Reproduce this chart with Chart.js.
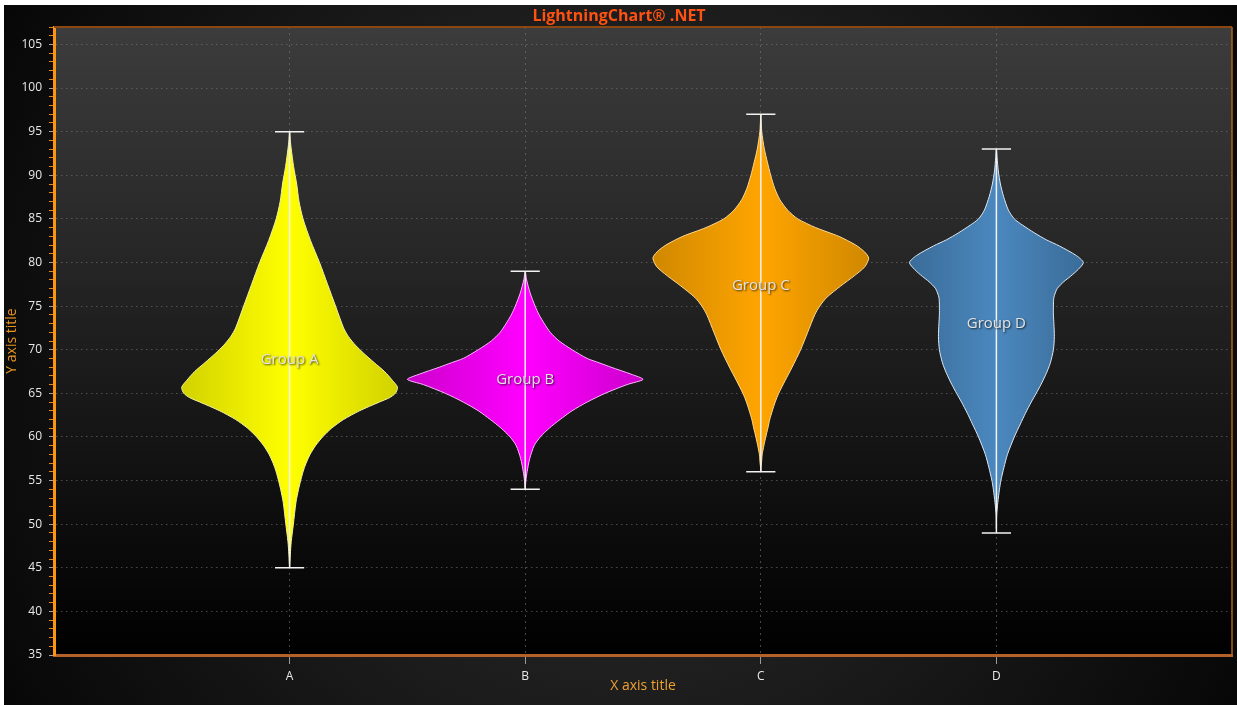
<!DOCTYPE html>
<html>
<head>
<meta charset="utf-8">
<script src="https://cdn.jsdelivr.net/npm/chart.js@4/dist/chart.umd.min.js"></script>
<style>
  html, body { margin: 0; padding: 0; background: #ffffff; }
  #chart { position: absolute; left: 4px; top: 5px; }
</style>
</head>
<body>
<canvas id="chart" width="1233" height="700"></canvas>
<script>
// categories on the x axis (placed at 0..3)
const categories = ['A', 'B', 'C', 'D'];
const groupNames = ['Group A', 'Group B', 'Group C', 'Group D'];

// violin outlines: y values (bottom to top) and half width in x-axis units
const groupA_y = [45, 46.5, 48, 50, 52.5, 54, 55, 56, 57, 58, 59, 60, 61, 62, 63, 64, 64.5, 65, 65.7, 66.5, 67.5, 68.5, 69.6, 70.5, 71.5, 72.5, 75, 77.5, 80, 82.5, 85, 87, 89, 91, 93, 94, 95];
const groupA_w = [0, 0.003, 0.007, 0.016, 0.027, 0.038, 0.047, 0.057, 0.070, 0.087, 0.110, 0.140, 0.178, 0.229, 0.297, 0.381, 0.424, 0.449, 0.458, 0.436, 0.403, 0.360, 0.314, 0.280, 0.250, 0.229, 0.195, 0.161, 0.127, 0.089, 0.057, 0.040, 0.030, 0.017, 0.007, 0.003, 0];

const groupB_y = [54, 55, 56, 57.5, 59, 60, 61, 62, 63, 64, 65, 66, 66.6, 67.2, 68, 68.5, 69, 70, 71, 72, 73, 74, 75, 76.5, 78, 79];
const groupB_w = [0, 0.003, 0.008, 0.019, 0.038, 0.064, 0.102, 0.148, 0.199, 0.263, 0.339, 0.432, 0.500, 0.449, 0.364, 0.314, 0.263, 0.199, 0.144, 0.106, 0.081, 0.059, 0.042, 0.021, 0.006, 0];

const groupC_y = [56, 56.5, 57, 58, 59, 60, 61, 62, 63, 64, 65, 66.5, 68, 70, 72, 74, 75, 76, 77.3, 78.5, 79.5, 80.5, 81.2, 82, 83, 84, 85, 86, 87.2, 88.5, 90, 91.5, 93, 95, 96.5, 97];
const groupC_w = [0, 0.001, 0.003, 0.006, 0.013, 0.021, 0.030, 0.038, 0.049, 0.061, 0.076, 0.104, 0.133, 0.169, 0.199, 0.229, 0.250, 0.280, 0.339, 0.398, 0.441, 0.458, 0.441, 0.403, 0.331, 0.233, 0.157, 0.114, 0.081, 0.059, 0.042, 0.028, 0.015, 0.004, 0.001, 0];

const groupD_y = [49.5, 51, 52.5, 54, 55, 56.5, 58, 60, 61.5, 62.7, 64, 65, 66, 67.3, 68.5, 70, 71.5, 73, 74, 75, 76, 77, 77.8, 78.4, 79.2, 80, 80.8, 81.9, 82.6, 83.4, 84.3, 85, 86, 87.6, 89, 90.5, 92, 93];
const groupD_w = [0, 0.001, 0.006, 0.013, 0.019, 0.032, 0.047, 0.076, 0.102, 0.123, 0.148, 0.169, 0.189, 0.212, 0.229, 0.242, 0.246, 0.244, 0.242, 0.242, 0.244, 0.258, 0.286, 0.314, 0.347, 0.369, 0.339, 0.267, 0.212, 0.161, 0.110, 0.076, 0.051, 0.030, 0.017, 0.008, 0.003, 0];

// whisker ends and label heights
const whiskerMin = [45, 54, 56, 49];
const whiskerMax = [95, 79, 97, 93];
const labelY = [68.9, 66.6, 77.3, 73.0];

const groupY = [groupA_y, groupB_y, groupC_y, groupD_y];
const groupW = [groupA_w, groupB_w, groupC_w, groupD_w];

// styles
const centerColors = ['#ffff00', '#ff00ff', '#ffa500', '#4b88bf'];
const edgeColors = ['#d2d200', '#cc00cc', '#d08800', '#3a6c98'];
const outlineColors = ['#f4f4a0', '#ffb4ff', '#ffd890', '#dde8f2'];
const capHalf = 0.062;

Chart.defaults.font.family = "'Open Sans', 'DejaVu Sans', sans-serif";

function violinPoints(center, ys, ws) {
    const right = ys.map((y, k) => ({x: center + ws[k], y: y}));
    const left = ys.map((y, k) => ({x: center - ws[k], y: y})).reverse().slice(1);
    return right.concat(left);
}

function violinFill(i) {
    return function (context) {
        const chart = context.chart;
        if (!chart.chartArea) {
            return centerColors[i];
        }
        const xs = chart.scales.x;
        const maxW = Math.max(...groupW[i]);
        const x0 = xs.getPixelForValue(i - maxW);
        const x1 = xs.getPixelForValue(i + maxW);
        const g = chart.ctx.createLinearGradient(x0, 0, x1, 0);
        g.addColorStop(0, edgeColors[i]);
        g.addColorStop(0.5, centerColors[i]);
        g.addColorStop(1, edgeColors[i]);
        return g;
    };
}

const datasets = [];
categories.forEach((c, i) => {
    datasets.push({
        label: groupNames[i],
        data: violinPoints(i, groupY[i], groupW[i]),
        fill: 'shape',
        backgroundColor: violinFill(i),
        borderColor: outlineColors[i],
        borderWidth: 1,
        pointRadius: 0,
        tension: 0.25,
        order: 2
    });
    datasets.push({
        label: groupNames[i] + ' range',
        data: [
            {x: i - capHalf, y: whiskerMax[i]}, {x: i + capHalf, y: whiskerMax[i]},
            {x: i, y: null},
            {x: i, y: whiskerMax[i]}, {x: i, y: whiskerMin[i]},
            {x: i, y: null},
            {x: i - capHalf, y: whiskerMin[i]}, {x: i + capHalf, y: whiskerMin[i]}
        ],
        fill: false,
        spanGaps: false,
        borderColor: '#f2f2f2',
        borderWidth: 1.5,
        pointRadius: 0,
        tension: 0,
        order: 0
    });
});

const backdrop = {
    id: 'backdrop',
    beforeDraw(chart) {
        const {ctx, width, height, chartArea: a} = chart;
        ctx.save();
        const g = ctx.createRadialGradient(width / 2, height / 2, 0, width / 2, height / 2, width * 0.6);
        g.addColorStop(0, '#323232');
        g.addColorStop(1, '#050505');
        ctx.fillStyle = g;
        ctx.fillRect(0, 0, width, height);
        const pg = ctx.createLinearGradient(0, a.top, 0, a.bottom);
        pg.addColorStop(0, '#3c3c3c');
        pg.addColorStop(1, '#000000');
        ctx.fillStyle = pg;
        ctx.fillRect(a.left, a.top, a.right - a.left, a.bottom - a.top);
        ctx.restore();
    },
    afterDraw(chart) {
        const {ctx, chartArea: a} = chart;
        ctx.save();
        ctx.strokeStyle = '#8c4612';
        ctx.lineWidth = 2;
        ctx.beginPath();
        ctx.moveTo(a.left, a.top);
        ctx.lineTo(a.right, a.top);
        ctx.stroke();
        ctx.strokeStyle = '#b0601c';
        ctx.lineWidth = 1.5;
        ctx.beginPath();
        ctx.moveTo(a.right, a.top);
        ctx.lineTo(a.right, a.bottom);
        ctx.stroke();
        ctx.restore();
    }
};

const groupLabels = {
    id: 'groupLabels',
    afterDatasetsDraw(chart) {
        const {ctx} = chart;
        const xs = chart.scales.x, ys = chart.scales.y;
        ctx.save();
        ctx.font = "15px 'Open Sans', sans-serif";
        ctx.textAlign = 'center';
        ctx.textBaseline = 'middle';
        ctx.shadowColor = 'rgba(0,0,0,0.75)';
        ctx.shadowBlur = 2;
        ctx.shadowOffsetX = 1;
        ctx.shadowOffsetY = 1;
        ctx.fillStyle = '#e4e4e4';
        groupNames.forEach((name, i) => {
            ctx.fillText(name, xs.getPixelForValue(i), ys.getPixelForValue(labelY[i]));
        });
        ctx.restore();
    }
};

const gridGrey = 'rgba(125,125,125,0.55)';

new Chart(
    document.getElementById('chart'),
    {
        type: 'line',
        data: {datasets: datasets},
        options: {
            responsive: false,
            animation: false,
            devicePixelRatio: 1,
            layout: {padding: {top: 0, right: 3, left: 0, bottom: 0}},
            plugins: {
                legend: {display: false},
                tooltip: {enabled: false},
                title: {
                    display: true,
                    text: 'LightningChart® .NET',
                    color: '#ff5212',
                    font: {size: 16, weight: 'bold'},
                    padding: {top: 1.5, bottom: 1.3}
                }
            },
            scales: {
                x: {
                    type: 'linear',
                    min: -1,
                    max: 4,
                    afterFit: s => { s.height = 50; },
                    ticks: {
                        stepSize: 1,
                        autoSkip: false,
                        maxRotation: 0,
                        color: '#e8e8e8',
                        font: {size: 12},
                        padding: 5,
                        callback: v => categories[v] !== undefined ? categories[v] : ''
                    },
                    grid: {
                        color: c => (c.tick && c.tick.value >= 0 && c.tick.value <= 3) ? gridGrey : 'transparent',
                        tickColor: c => (c.tick && c.tick.value >= 0 && c.tick.value <= 3) ? '#9a9a9a' : 'transparent',
                        tickLength: 9,
                        lineWidth: 1
                    },
                    border: {display: true, color: '#b4622a', width: 3, dash: [2, 4]},
                    title: {
                        display: true,
                        text: 'X axis title',
                        color: '#f0a030',
                        font: {size: 14},
                        padding: {top: 0, bottom: 10.6}
                    }
                },
                y: {
                    type: 'linear',
                    min: 35,
                    max: 107,
                    afterFit: s => { s.width = 50; },
                    ticks: {
                        stepSize: 1,
                        includeBounds: false,
                        autoSkip: false,
                        color: '#e8e8e8',
                        font: {size: 12},
                        padding: 7,
                        callback: v => v % 5 === 0 ? v : ''
                    },
                    grid: {
                        color: c => (c.tick && c.tick.value % 5 === 0 && c.tick.value > 35) ? gridGrey : 'transparent',
                        tickColor: c => (c.tick && c.tick.value % 5 === 0) ? '#a0a0a0' : '#e8860e',
                        tickWidth: c => (c.tick && c.tick.value % 5 === 0) ? 1 : 1,
                        tickLength: 5,
                        lineWidth: 1
                    },
                    border: {display: true, color: '#ff9412', width: 3, dash: [1.5, 3.5]},
                    title: {
                        display: true,
                        text: 'Y axis title',
                        color: '#e8961e',
                        font: {size: 14},
                        padding: {top: 0, bottom: 0}
                    }
                }
            }
        },
        plugins: [backdrop, groupLabels]
    }
);
</script>
</body>
</html>
